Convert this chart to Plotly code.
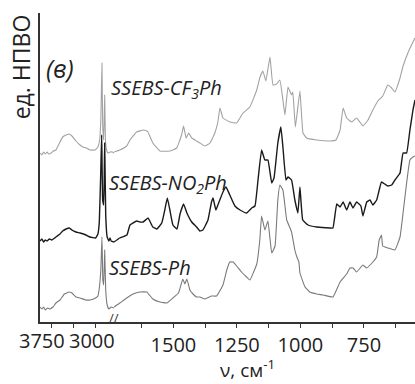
import plotly.graph_objects as go

# FTIR-ATR spectra of the SSEBS series (absorbance, arbitrary units).
# Wavenumbers above the axis break (2000 cm-1) go to the left panel.

cf3_wn = [3952, 3920, 3890, 3860, 3830, 3800, 3760, 3720, 3676, 3640, 3606, 3560, 3500, 3446, 3400,
          3330, 3260, 3209, 3150, 3087, 3000, 2950, 2920, 2900, 2880, 2868, 2850, 2833, 2820, 2800,
          2776, 2740, 2700, 2672,
          1734, 1711, 1684, 1671, 1645, 1619, 1605, 1600, 1581, 1553, 1514, 1487, 1468, 1460, 1450,
          1440, 1428, 1409, 1396, 1376, 1356, 1337, 1325, 1317, 1305, 1278, 1251, 1226, 1199, 1172,
          1159, 1148, 1136, 1120, 1108, 1094, 1081, 1069, 1061, 1049, 1035, 1030, 1020, 1002, 990,
          976, 936, 884, 860, 844, 832, 818, 798, 779, 754, 734, 715, 695, 676, 656, 641, 628, 608,
          596, 577, 557, 549]
cf3_abs = [0.00, -0.02, 0.01, -0.01, 0.01, -0.01, 0.00, 0.02, 0.03, 0.07, 0.11, 0.16, 0.18, 0.19, 0.17,
           0.12, 0.08, 0.06, 0.05, 0.03, 0.03, 0.06, 0.13, 0.33, 0.90, 0.28, 0.13, 0.58, 0.13, 0.03,
           0.00, 0.01, 0.01, 0.00,
           0.01, 0.03, 0.07, 0.13, 0.21, 0.23, 0.22, 0.21, 0.10, 0.02, 0.02, 0.05, 0.18, 0.27, 0.15,
           0.20, 0.15, 0.12, 0.10, 0.07, 0.10, 0.20, 0.31, 0.45, 0.35, 0.31, 0.30, 0.40, 0.46, 0.63,
           0.76, 0.82, 0.72, 0.96, 0.68, 0.69, 0.73, 0.53, 0.38, 0.66, 0.58, 0.61, 0.26, 0.62, 0.20,
           0.15, 0.13, 0.12, 0.13, 0.23, 0.45, 0.35, 0.31, 0.35, 0.27, 0.33, 0.43, 0.52, 0.57, 0.68,
           0.65, 0.61, 0.75, 0.87, 1.00, 1.11, 1.15]

no2_wn = [3952, 3920, 3890, 3860, 3830, 3790, 3750, 3700, 3676, 3606, 3560, 3500, 3446, 3400, 3330,
          3260, 3157, 3087, 2990, 2950, 2926, 2900, 2885, 2868, 2850, 2833, 2815, 2790, 2760, 2740,
          2720, 2672,
          1734, 1711, 1683, 1671, 1645, 1632, 1619, 1600, 1581, 1565, 1546, 1534, 1524, 1514, 1502,
          1486, 1474, 1460, 1447, 1428, 1409, 1396, 1384, 1364, 1350, 1344, 1333, 1325, 1305, 1293,
          1278, 1258, 1238, 1212, 1192, 1179, 1167, 1153, 1140, 1128, 1113, 1104, 1089, 1077, 1069,
          1057, 1049, 1035, 1022, 1010, 1002, 991, 970, 936, 884, 872, 857, 844, 832, 818, 805, 793,
          779, 762, 754, 739, 726, 715, 700, 681, 668, 656, 641, 628, 608, 596, 582, 569, 557, 549]
no2_abs = [-0.01, 0.01, -0.02, 0.00, -0.01, 0.01, 0.00, 0.02, 0.03, 0.06, 0.09, 0.11, 0.12, 0.10, 0.08,
           0.07, 0.05, 0.03, 0.02, 0.06, 0.18, 0.70, 1.05, 0.40, 0.35, 0.97, 0.25, 0.03, -0.01, 0.02,
           -0.01, -0.02,
           -0.02, 0.02, 0.05, 0.15, 0.19, 0.18, 0.18, 0.22, 0.13, 0.11, 0.17, 0.30, 0.42, 0.30, 0.15,
           0.11, 0.26, 0.36, 0.27, 0.18, 0.13, 0.09, 0.10, 0.20, 0.38, 0.42, 0.30, 0.35, 0.48, 0.53,
           0.45, 0.34, 0.30, 0.27, 0.32, 0.34, 0.60, 0.90, 0.80, 0.80, 0.57, 0.62, 0.97, 1.13, 0.93,
           0.60, 0.63, 0.60, 0.40, 0.27, 0.53, 0.20, 0.15, 0.13, 0.12, 0.12, 0.36, 0.33, 0.38, 0.30,
           0.38, 0.32, 0.38, 0.34, 0.24, 0.38, 0.40, 0.35, 0.40, 0.58, 0.56, 0.54, 0.55, 0.60, 0.67,
           0.87, 0.87, 1.10, 1.30, 1.40]

ph_wn = [3952, 3920, 3890, 3860, 3820, 3780, 3728, 3676, 3606, 3530, 3450, 3400, 3330, 3260, 3157,
         3087, 2990, 2950, 2926, 2900, 2880, 2865, 2850, 2833, 2815, 2790, 2760, 2720, 2672,
         1734, 1711, 1684, 1659, 1632, 1605, 1581, 1553, 1526, 1502, 1480, 1463, 1455, 1447, 1435,
         1423, 1409, 1396, 1376, 1350, 1330, 1305, 1290, 1278, 1265, 1251, 1232, 1212, 1199, 1172,
         1160, 1153, 1140, 1128, 1113, 1100, 1089, 1081, 1069, 1054, 1041, 1035, 1022, 1014, 1006,
         1002, 982, 963, 936, 911, 872, 844, 818, 805, 793, 779, 754, 739, 715, 700, 690, 681, 676,
         656, 628, 608, 596, 582, 569, 557, 549]
ph_abs = [0.01, -0.01, 0.01, -0.02, 0.00, -0.01, 0.01, 0.05, 0.08, 0.14, 0.16, 0.15, 0.11, 0.10, 0.08,
          0.08, 0.10, 0.12, 0.20, 0.38, 0.71, 0.28, 0.23, 0.58, 0.18, 0.03, -0.01, 0.01, 0.00,
          0.01, 0.05, 0.10, 0.14, 0.16, 0.16, 0.09, 0.06, 0.05, 0.10, 0.15, 0.29, 0.24, 0.29, 0.18,
          0.14, 0.11, 0.11, 0.09, 0.12, 0.12, 0.23, 0.38, 0.46, 0.46, 0.42, 0.36, 0.31, 0.28, 0.44,
          0.68, 0.92, 0.78, 0.87, 0.55, 0.62, 1.08, 1.23, 1.18, 0.88, 0.80, 0.76, 0.58, 0.51, 0.46,
          0.35, 0.21, 0.16, 0.14, 0.13, 0.11, 0.26, 0.34, 0.40, 0.40, 0.36, 0.43, 0.40, 0.46, 0.51,
          0.68, 0.73, 0.62, 0.60, 0.58, 0.71, 0.95, 1.25, 1.48, 1.51, 1.52]

# vertical stacking of the three spectra
offsets = {"cf3": 1.69, "no2": 0.82, "ph": 0.14}

# axis ticks
left_ticks = [3750, 3000]
left_minor = [3375]
right_ticks = [1500, 1250, 1000, 750]
right_minor = [1625, 1375, 1125, 875, 625]

BREAK = 2000
left_range = [3952, 2672]
right_range = [1734, 549]
split = 0.1973

series = [
    ("cf3", cf3_wn, cf3_abs, "#a2a2a2", 1.1),
    ("no2", no2_wn, no2_abs, "#1a1a1a", 1.4),
    ("ph", ph_wn, ph_abs, "#7a7a7a", 1.1),
]

fig = go.Figure()
for key, wn, ab, color, width in series:
    y = [a + offsets[key] for a in ab]
    hi = [(w, v) for w, v in zip(wn, y) if w > BREAK]
    lo = [(w, v) for w, v in zip(wn, y) if w < BREAK]
    for pts, xa in ((hi, "x"), (lo, "x2")):
        fig.add_trace(go.Scatter(
            x=[p[0] for p in pts], y=[p[1] for p in pts], xaxis=xa, yaxis="y",
            mode="lines", line=dict(color=color, width=width, shape="spline", smoothing=0.3),
            showlegend=False, hoverinfo="skip"))

axis_col = "#333333"
tick_font = dict(family="Open Sans", size=20, color="#222222")
tick_style = dict(ticks="outside", ticklen=4, tickwidth=1.2, tickcolor=axis_col)

fig.update_layout(
    width=415, height=384,
    margin=dict(l=40, r=0, t=13, b=62),
    paper_bgcolor="white", plot_bgcolor="white",
    xaxis=dict(domain=[0, split], range=left_range, showgrid=False, zeroline=False,
               showline=True, linecolor=axis_col, linewidth=1.5,
               tickvals=left_ticks, showticklabels=False, **tick_style,
               minor=dict(tickvals=left_minor, **tick_style)),
    xaxis2=dict(domain=[split, 1], range=right_range, anchor="y", showgrid=False,
                zeroline=False, showline=True, linecolor=axis_col, linewidth=1.5,
                tickvals=right_ticks, tickfont=tick_font, **tick_style,
                minor=dict(tickvals=right_minor, **tick_style)),
    yaxis=dict(range=[0, 3.09], showgrid=False, zeroline=False, showline=True,
               linecolor=axis_col, linewidth=1.5, showticklabels=False, ticks=""),
)

# tick labels of the left (high-wavenumber) panel, nudged apart
for val, shift in zip(left_ticks, (-10, -3)):
    fig.add_annotation(x=val, xref="x", y=-0.061, yref="paper", text=str(val),
                       showarrow=False, xshift=shift, font=tick_font,
                       xanchor="center", yanchor="middle")

# axis break marker
fig.add_annotation(x=split, xref="paper", y=0, yref="paper", text="//",
                   showarrow=False, yshift=4,
                   font=dict(family="Open Sans", size=13, color=axis_col),
                   xanchor="center", yanchor="middle")

label_font = dict(family="Open Sans", size=20, color="#222222")
labels = [
    ("<i>SSEBS-CF<sub>3</sub>Ph</i>", 0.184, 0.757),
    ("<i>SSEBS-NO<sub>2</sub>Ph</i>", 0.178, 0.447),
    ("<i>SSEBS-Ph</i>", 0.178, 0.175),
]
for text, x, y in labels:
    fig.add_annotation(x=x, y=y, xref="paper", yref="paper", text=text, showarrow=False,
                       xanchor="left", yanchor="middle", font=label_font)

fig.add_annotation(x=0.01, y=0.822, xref="paper", yref="paper", text="<i>(в)</i>",
                   showarrow=False, xanchor="left", yanchor="middle",
                   font=dict(family="Open Sans", size=25, color="#222222"))

fig.add_annotation(x=-0.05, y=0.825, xref="paper", yref="paper", text="ед. НПВО",
                   textangle=-90, showarrow=False, xanchor="center", yanchor="middle",
                   font=dict(family="Open Sans", size=23, color="#222222"))

fig.add_annotation(x=0.552, y=-0.152, xref="paper", yref="paper", text="ν, см<sup>-1</sup>",
                   showarrow=False, xanchor="center", yanchor="middle",
                   font=dict(family="Open Sans", size=19, color="#222222"))

fig.write_html("out.html")
